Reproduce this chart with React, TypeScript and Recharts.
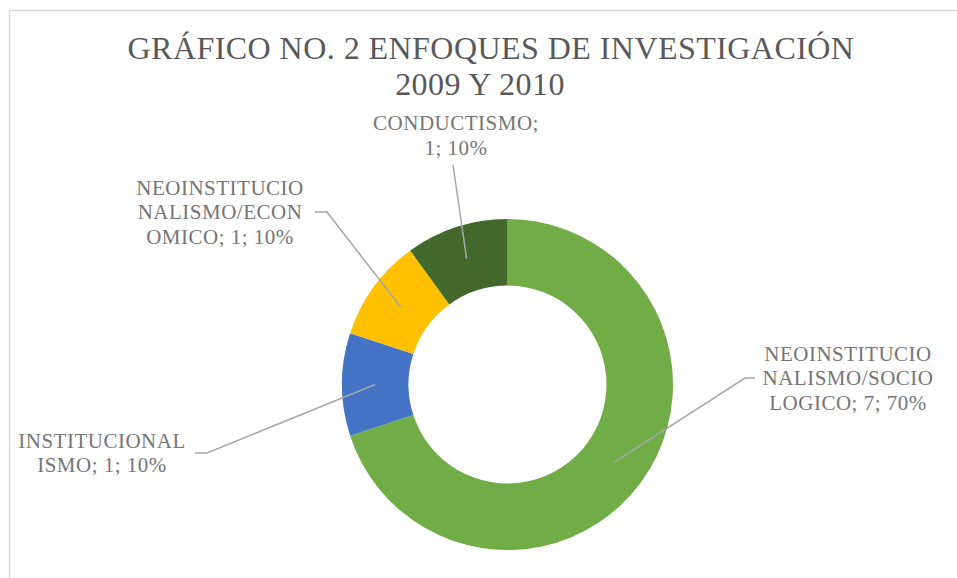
import { PieChart, Pie, Cell } from "recharts";

const TITLE_LINES = ["GRÁFICO NO. 2 ENFOQUES DE INVESTIGACIÓN", "2009 Y 2010"];

const CATEGORIES = [
  "NEOINSTITUCIONALISMO/SOCIOLOGICO",
  "INSTITUCIONALISMO",
  "NEOINSTITUCIONALISMO/ECONOMICO",
  "CONDUCTISMO",
];
const VALUES = [7, 1, 1, 1];
const COLORS = ["#70AD47", "#4472C4", "#FFC000", "#43682B"];

// where Excel wrapped each label, in characters
const LABEL_BREAKS = [[13, 26], [13], [13, 25], [12]];

// leader line elbows / ends and text placement for each label
const LABEL_LAYOUT = [
  { elbowX: 745, elbowY: 378, endX: 755, textX: 848, midY: 378 },
  { elbowX: 207, elbowY: 453, endX: 195, textX: 102, midY: 453 },
  { elbowX: 327, elbowY: 212, endX: 315, textX: 220, midY: 212 },
  { elbowX: 453, elbowY: 165, endX: 453, textX: 456, midY: 135.5 },
];

const data = CATEGORIES.map((name, i) => ({ name, value: VALUES[i] }));
const total = VALUES.reduce((s, v) => s + v, 0);

const RAD = Math.PI / 180;
const FONT = "'Liberation Serif', 'Times New Roman', serif";
const LINE_H = 24.5;

function splitLabel(text: string, breaks: number[]) {
  const out: string[] = [];
  let prev = 0;
  breaks.forEach((b) => {
    out.push(text.slice(prev, b).trim());
    prev = b;
  });
  out.push(text.slice(prev).trim());
  return out;
}

function renderLabel(props: any) {
  const { cx, cy, midAngle, innerRadius, outerRadius, index } = props;
  const r = (innerRadius + outerRadius) / 2;
  const sx = cx + r * Math.cos(-midAngle * RAD);
  const sy = cy + r * Math.sin(-midAngle * RAD);
  const lay = LABEL_LAYOUT[index];
  const pct = Math.round((VALUES[index] / total) * 100);
  const full = `${CATEGORIES[index]}; ${VALUES[index]}; ${pct}%`;
  const lines = splitLabel(full, LABEL_BREAKS[index]);
  const top = lay.midY - ((lines.length - 1) * LINE_H) / 2;
  return (
    <g key={`lbl-${index}`}>
      <polyline
        points={`${sx},${sy} ${lay.elbowX},${lay.elbowY} ${lay.endX},${lay.elbowY}`}
        fill="none"
        stroke="#A6A6A6"
        strokeWidth={1.5}
      />
      <text
        textAnchor="middle"
        fill="#757575"
        fontFamily={FONT}
        fontSize={21}
        letterSpacing={0.5}
      >
        {lines.map((l, i) => (
          <tspan key={i} x={lay.textX} y={top + i * LINE_H + 7}>
            {l}
          </tspan>
        ))}
      </text>
    </g>
  );
}

export default function App() {
  return (
    <div style={{ position: "absolute", left: 0, top: 0, width: 957, height: 578, background: "#fff", overflow: "hidden" }}>
      <svg width={957} height={578} style={{ position: "absolute", left: 0, top: 0 }}>
        <rect x={9.5} y={10.5} width={1000} height={1000} fill="#fff" stroke="#D9D9D9" strokeWidth={1.5} />
        <text x={491} y={58.5} textAnchor="middle" fill="#595959" fontFamily={FONT} fontSize={32} letterSpacing={0.45}>
          {TITLE_LINES[0]}
        </text>
        <text x={480} y={95} textAnchor="middle" fill="#595959" fontFamily={FONT} fontSize={32} letterSpacing={0.45}>
          {TITLE_LINES[1]}
        </text>
      </svg>
      <div style={{ position: "absolute", left: 0, top: 0 }}>
        <PieChart width={957} height={578} margin={{ top: 0, right: 0, bottom: 0, left: 0 }}>
          <Pie
            data={data}
            dataKey="value"
            nameKey="name"
            cx={507.5}
            cy={384.5}
            innerRadius={99}
            outerRadius={165.5}
            startAngle={90}
            endAngle={-270}
            stroke="none"
            label={renderLabel}
            labelLine={false}
            isAnimationActive={false}
          >
            {data.map((_, i) => (
              <Cell key={i} fill={COLORS[i]} />
            ))}
          </Pie>
        </PieChart>
      </div>
    </div>
  );
}
